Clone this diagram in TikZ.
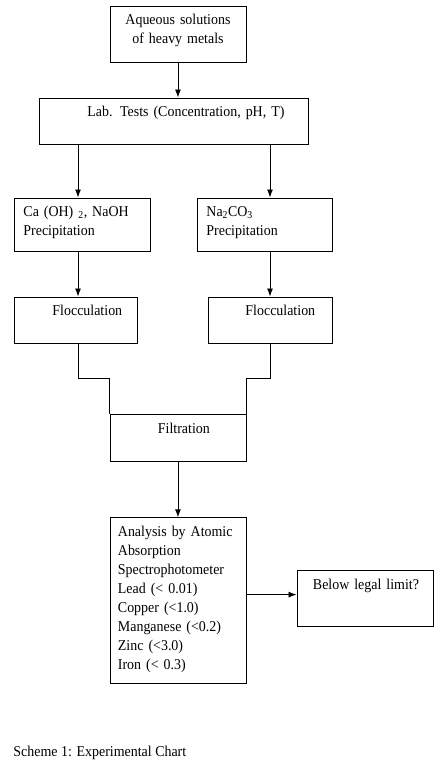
\documentclass[tikz,border=0pt]{standalone}
\usepackage{fontspec}
\setmainfont{Liberation Serif}[FakeStretch=0.93]
\usetikzlibrary{arrows.meta}
\newcommand{\chartfont}{\fontsize{15pt}{19pt}\selectfont}
\begin{document}
\begin{tikzpicture}[x=1pt,y=-1pt,>={Latex[length=8pt,width=6pt]},line width=0.9pt,font=\chartfont,
	box/.style={draw,anchor=north west,inner xsep=9.5pt,inner ysep=0pt,align=left,text height=18.5pt}]
	\useasboundingbox (0,0) rectangle (444,771);
	\node[box,align=center,text width=117pt,text depth=37.5pt] (aq) at (109.5,5.5) {Aqueous solutions\\of heavy metals};
	\node[box,text width=250pt,text depth=27.5pt] (lab) at (38.5,97.5) {\hspace*{39pt}Lab. Tests (Concentration, pH, T)};
	\node[box,text width=117pt,text depth=34.5pt] (ca) at (13.5,197.5) {Ca (OH) \textsubscript{2}, NaOH\\Precipitation};
	\node[box,text width=116pt,text depth=34.5pt] (na) at (196.5,197.5) {Na\textsubscript{2}CO\textsubscript{3}\\Precipitation};
	\node[box,text width=104pt,text depth=28pt] (flocL) at (13.5,296.5) {\hspace*{29pt}Flocculation};
	\node[box,text width=105pt,text depth=28pt] (flocR) at (207.5,296.5) {\hspace*{28pt}Flocculation};
	\node[box,text width=117pt,text depth=28.5pt] (filt) at (109.5,414.3) {\hspace*{38.5pt}Filtration};
	\node[box,inner xsep=8pt,text width=120pt,text depth=147.2pt] (ana) at (109.5,517.3) {Analysis by Atomic\\Absorption\\Spectrophotometer\\Lead (< 0.01)\\Copper (<1.0)\\Manganese (<0.2)\\Zinc (<3.0)\\Iron (< 0.3)};
	\node[box,text width=117pt,text depth=37.2pt] (below) at (296.5,570.3) {\hspace*{6.5pt}Below legal limit?};
	\node[anchor=base west,inner sep=0pt] (cap) at (13,756) {Scheme 1: Experimental Chart};
	\coordinate (lx) at (78,0);
	\coordinate (rx) at (270,0);
	\coordinate (jn) at (0,378.3);
	\draw[->] (aq.south) -- (aq.south |- lab.north);
	\draw[->] (lab.south -| lx) -- (ca.north -| lx);
	\draw[->] (lab.south -| rx) -- (na.north -| rx);
	\draw[->] (ca.south -| lx) -- (flocL.north -| lx);
	\draw[->] (na.south -| rx) -- (flocR.north -| rx);
	\draw (flocL.south -| lx) -- (lx |- jn) -| (filt.north west);
	\draw (flocR.south -| rx) -- (rx |- jn) -| (filt.north east);
	\draw[->] (filt.south) -- (ana.north);
	\draw[->] ([yshift=4pt]ana.east |- below.west) -- ([yshift=4pt]below.west);
\end{tikzpicture}
\end{document}
